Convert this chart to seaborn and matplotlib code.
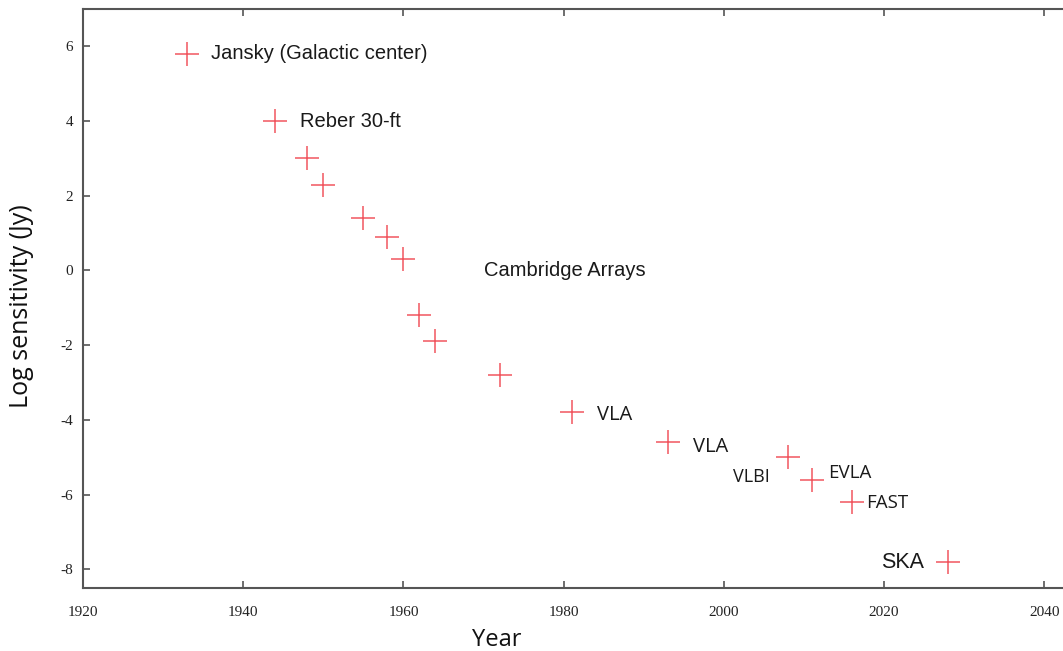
import matplotlib
matplotlib.use("Agg")
import matplotlib.pyplot as plt
import seaborn as sns
import pandas as pd

years = [1933, 1944, 1948, 1950, 1955, 1958, 1960, 1962, 1964, 1972, 1981, 1993, 2008, 2011, 2016, 2028]
log_sens = [5.8, 4.0, 3.0, 2.3, 1.4, 0.9, 0.3, -1.2, -1.9, -2.8, -3.8, -4.6, -5.0, -5.6, -6.2, -7.8]
labels = ["Jansky (Galactic center)", "Reber 30-ft", "", "", "", "", "", "", "", "", "VLA", "VLA", "VLBI", "EVLA", "FAST", "SKA"]
free_label = "Cambridge Arrays"
free_label_pos = (1970, 0.0)
x_ticks = [1920, 1940, 1960, 1980, 2000, 2020, 2040]
y_ticks = [-8, -6, -4, -2, 0, 2, 4, 6]

sns.set_style("ticks")
df = pd.DataFrame({"year": years, "sens": log_sens})

fig = plt.figure(figsize=(10.63, 6.51), dpi=100)
ax = fig.add_axes([83/1063, 1-588/651, 1-83/1063 + 0.002, (588-9)/651])

sns.scatterplot(data=df, x="year", y="sens", marker="+", s=290, color="#f0444e",
                linewidth=1.1, alpha=0.9, ax=ax, legend=False)

ax.set_xlim(1920, 2042.6)
ax.set_ylim(-8.5, 7.0)
ax.set_xticks(x_ticks)
ax.set_yticks(y_ticks)

serif = ["Liberation Serif", "DejaVu Serif"]
ax.set_xticklabels([str(t) for t in x_ticks], family=serif, fontsize=11, color="#222222")
ax.set_yticklabels([str(t) for t in y_ticks], family=serif, fontsize=11, color="#222222")
ax.tick_params(axis="both", direction="in", length=5, width=1.2, color="#555555")
ax.tick_params(axis="x", top=True, pad=13)
ax.tick_params(axis="y", pad=7)
for s in ["left", "bottom", "top"]:
    ax.spines[s].set_color("#555555")
    ax.spines[s].set_linewidth(1.5)
ax.spines["right"].set_visible(False)

ax.set_xlabel("Year", family=["Open Sans", "DejaVu Sans"], fontsize=17, color="#111111", va="center")
ax.set_ylabel("Log sensitivity (Jy)", family=["Open Sans", "DejaVu Sans"], fontsize=18, color="#111111", va="center")
ax.xaxis.set_label_coords(0.421, -(640-588)/579)
ax.yaxis.set_label_coords(-(83-22)/980, 0.487)

helv = ["Liberation Sans", "DejaVu Sans"]
calib = ["Open Sans", "DejaVu Sans"]
styles = {
    "Jansky (Galactic center)": (17, 0, "left", helv, 14.5),
    "Reber 30-ft": (18, 0, "left", helv, 14.5),
    "VLA": (18, -1.5, "left", calib, 14.5),
    "VLBI": (-13, -14, "right", calib, 13),
    "EVLA": (11.5, 4.5, "left", calib, 13.5),
    "FAST": (10, -0.5, "left", calib, 13.5),
    "SKA": (-17, -0.5, "right", helv, 15.5),
}
for i, (x, y, lab) in enumerate(zip(years, log_sens, labels)):
    if not lab:
        continue
    dx, dy, ha, fam, fs = styles[lab]
    if lab == "VLA" and i == 11:
        dy = -3.5
    ax.annotate(lab, (x, y), xytext=(dx, dy), textcoords="offset points",
                ha=ha, va="center", family=fam, fontsize=fs, color="#1a1a1a")

ax.text(free_label_pos[0], free_label_pos[1], free_label, ha="left", va="center",
        family=helv, fontsize=14.5, color="#1a1a1a")

fig.savefig("out.png", dpi=100)
